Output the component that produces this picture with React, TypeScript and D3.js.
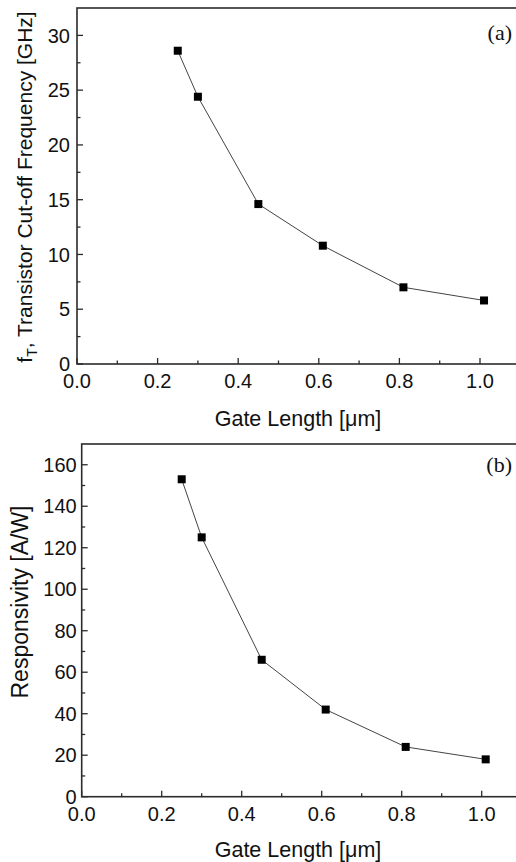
import * as d3 from "d3";

// gate length in um, shared by both panels
const gateLength = [0.25, 0.3, 0.45, 0.61, 0.81, 1.01];
// (a) cut-off frequency in GHz
const cutoffFreq = [28.6, 24.4, 14.6, 10.8, 7.0, 5.8];
// (b) responsivity in A/W
const responsivity = [153, 125, 66, 42, 24, 18];

const xTicks = [0, 0.2, 0.4, 0.6, 0.8, 1.0];
const xMinor = [0.1, 0.3, 0.5, 0.7, 0.9];
const fTicks = [0, 5, 10, 15, 20, 25, 30];
const fMinor = [2.5, 7.5, 12.5, 17.5, 22.5, 27.5];
const rTicks = [0, 20, 40, 60, 80, 100, 120, 140, 160];
const rMinor = [10, 30, 50, 70, 90, 110, 130, 150];

const SANS = "Liberation Sans, Arial, Helvetica, sans-serif";
const SERIF = "Liberation Serif, Times New Roman, serif";
const AXIS = "#2b2b2b";

type PanelProps = {
  values: number[];
  yMax: number;
  yTicks: number[];
  yMinor: number[];
  left: number;
  top: number;
  bottom: number;
  unit: number; // px per 1.0 um
  yLabelGap: number;
  letter: string;
  letterY: number;
  yTitle: React.ReactNode;
  yTitleX: number;
  yTitleY: number;
  yTitleSize: number;
  xTitleY: number;
};

function Panel(p: PanelProps) {
  const x = d3.scaleLinear().domain([0, 1.1]).range([p.left, p.left + p.unit * 1.1]);
  const y = d3.scaleLinear().domain([0, p.yMax]).range([p.bottom, p.top]);
  const pts = gateLength.map((g, i) => [x(g), y(p.values[i])] as [number, number]);
  const line = d3.line()(pts) || "";

  return (
    <g>
      <path d={line} fill="none" stroke="#444" strokeWidth={1} />
      {pts.map(([cx, cy], i) => (
        <rect key={i} x={cx - 4} y={cy - 4} width={8} height={8} fill="#000" />
      ))}

      {/* frame */}
      <rect
        x={x(0)}
        y={y(p.yMax)}
        width={x(1.1) - x(0)}
        height={y(0) - y(p.yMax)}
        fill="none"
        stroke={AXIS}
        strokeWidth={1.6}
      />

      {/* x ticks, inward */}
      {xTicks.map((t) => (
        <g key={"x" + t}>
          <line x1={x(t)} x2={x(t)} y1={y(0)} y2={y(0) - 6} stroke={AXIS} strokeWidth={1.3} />
          <text
            x={x(t)}
            y={y(0) + 24}
            textAnchor="middle"
            fontFamily={SANS}
            fontSize={20}
            fill="#111"
          >
            {t.toFixed(1)}
          </text>
        </g>
      ))}
      {xMinor.map((t) => (
        <line key={"xm" + t} x1={x(t)} x2={x(t)} y1={y(0)} y2={y(0) - 3.5} stroke={AXIS} strokeWidth={1.3} />
      ))}

      {/* y ticks, inward */}
      {p.yTicks.map((t) => (
        <g key={"y" + t}>
          <line x1={x(0)} x2={x(0) + 6} y1={y(t)} y2={y(t)} stroke={AXIS} strokeWidth={1.3} />
          <text
            x={x(0) - p.yLabelGap}
            y={y(t)}
            dy="0.36em"
            textAnchor="end"
            fontFamily={SANS}
            fontSize={20}
            fill="#111"
          >
            {t}
          </text>
        </g>
      ))}
      {p.yMinor.map((t) => (
        <line key={"ym" + t} x1={x(0)} x2={x(0) + 3.5} y1={y(t)} y2={y(t)} stroke={AXIS} strokeWidth={1.3} />
      ))}

      <text x={298} y={p.xTitleY} textAnchor="middle" fontFamily={SANS} fontSize={21.5} fill="#111">
        Gate Length [μm]
      </text>
      <text
        transform={`translate(${p.yTitleX},${p.yTitleY}) rotate(-90)`}
        textAnchor="middle"
        fontFamily={SANS}
        fontSize={p.yTitleSize}
        fill="#111"
      >
        {p.yTitle}
      </text>
      <text x={512} y={p.letterY} textAnchor="end" fontFamily={SERIF} fontSize={22} fill="#111">
        {p.letter}
      </text>
    </g>
  );
}

export default function App() {
  return (
    <svg
      width={516}
      height={862}
      style={{ position: "absolute", left: 0, top: 0, background: "#fff" }}
    >
      <rect width={516} height={862} fill="#fff" />
      <Panel
        values={cutoffFreq}
        yMax={32.5}
        yTicks={fTicks}
        yMinor={fMinor}
        left={77}
        top={8}
        bottom={364}
        unit={403}
        yLabelGap={7}
        letter="(a)"
        letterY={40}
        yTitle={
          <>
            f<tspan fontSize={14} dy={5}>T</tspan>
            <tspan dy={-5}>, Transistor Cut-off Frequency [GHz]</tspan>
          </>
        }
        yTitleX={32}
        yTitleY={187}
        yTitleSize={21}
        xTitleY={426}
      />
      <Panel
        values={responsivity}
        yMax={170}
        yTicks={rTicks}
        yMinor={rMinor}
        left={81.7}
        top={444}
        bottom={796.7}
        unit={400}
        yLabelGap={5}
        letter="(b)"
        letterY={472}
        yTitle="Responsivity [A/W]"
        yTitleX={28}
        yTitleY={602}
        yTitleSize={23}
        xTitleY={857}
      />
    </svg>
  );
}
